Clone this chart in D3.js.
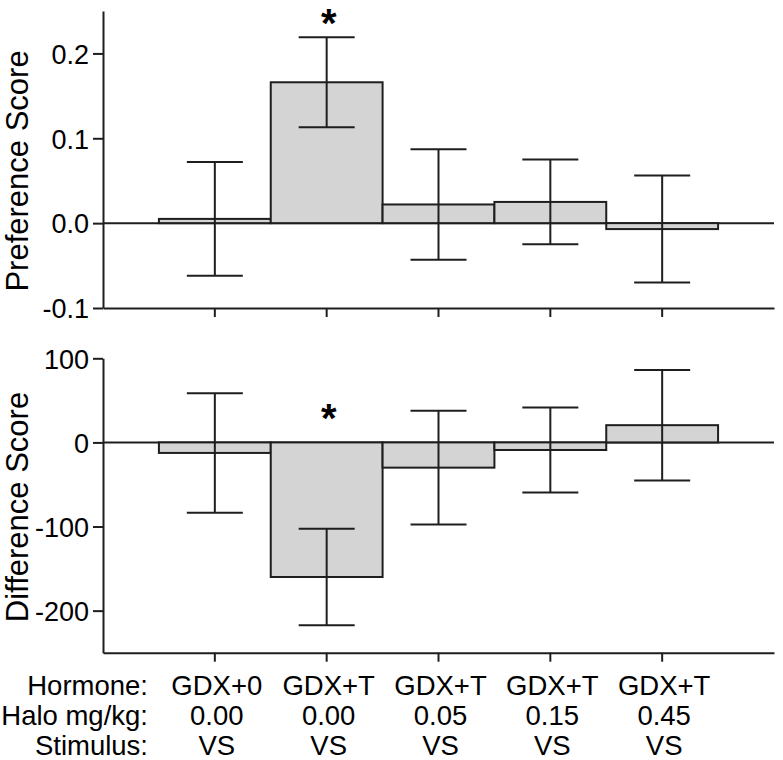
<!DOCTYPE html>
<html>
<head>
<meta charset="utf-8">
<script src="https://cdn.jsdelivr.net/npm/d3@7"></script>
<style>
  html, body { margin: 0; padding: 0; background: #fff; }
  svg { display: block; font-family: "Liberation Sans", Arial, Helvetica, sans-serif; }
</style>
</head>
<body>
<svg id="chart" width="783" height="760"></svg>
<script>
// ---- Data ----
const hormone = ["GDX+0", "GDX+T", "GDX+T", "GDX+T", "GDX+T"];
const halo = ["0.00", "0.00", "0.05", "0.15", "0.45"];
const stimulus = ["VS", "VS", "VS", "VS", "VS"];
const rowLabels = ["Hormone:", "Halo mg/kg:", "Stimulus:"];

const prefMean = [0.005, 0.166, 0.022, 0.025, -0.007];
const prefErr  = [0.067, 0.053, 0.065, 0.050, 0.063];
const diffMean = [-12.5, -160, -30, -9, 20.5];
const diffErr  = [71, 57.5, 67.5, 50.5, 65.7];

const prefTicks = [-0.1, 0.0, 0.1, 0.2];
const diffTicks = [-200, -100, 0, 100];

const prefSig = [{ i: 1, y: 0.249 }];
const diffSig = [{ i: 1, y: 42 }];

// ---- Layout ----
const svg = d3.select("#chart");
const ink = "#1e1e1e";
const idx = hormone.map((d, i) => i);

const x = d3.scaleBand().domain(idx).range([103, 774]).paddingInner(0).paddingOuter(0.5);

const hy = f => v => f(v).replace("\u2212", "-");

const panels = [
  { title: "Preference Score", mean: prefMean, err: prefErr, ticks: prefTicks, fmt: hy(d3.format(".1f")),
    domain: [-0.1, 0.25], range: [308, 11], sig: prefSig, titleY: 171, xLabels: false },
  { title: "Difference Score", mean: diffMean, err: diffErr, ticks: diffTicks, fmt: hy(d3.format("d")),
    domain: [-250, 100], range: [652.7, 358.3], sig: diffSig, titleY: 507, xLabels: true }
];

panels.forEach(p => {
  const y = d3.scaleLinear().domain(p.domain).range(p.range);
  const g = svg.append("g");

  // zero line
  g.append("line")
    .attr("x1", x.range()[0]).attr("x2", x.range()[1])
    .attr("y1", y(0)).attr("y2", y(0))
    .attr("stroke", ink).attr("stroke-width", 2);

  // bars
  g.selectAll("rect.bar").data(idx).join("rect")
    .attr("class", "bar")
    .attr("x", i => x(i))
    .attr("width", x.bandwidth())
    .attr("y", i => y(Math.max(0, p.mean[i])))
    .attr("height", i => Math.abs(y(p.mean[i]) - y(0)))
    .attr("fill", "#d4d4d4")
    .attr("stroke", ink).attr("stroke-width", 2);

  // error bars
  const capW = 28;
  const eb = g.selectAll("g.eb").data(idx).join("g").attr("class", "eb");
  eb.append("line")
    .attr("x1", i => x(i) + x.bandwidth() / 2).attr("x2", i => x(i) + x.bandwidth() / 2)
    .attr("y1", i => y(p.mean[i] + p.err[i])).attr("y2", i => y(p.mean[i] - p.err[i]))
    .attr("stroke", ink).attr("stroke-width", 2);
  [1, -1].forEach(s => {
    eb.append("line")
      .attr("x1", i => x(i) + x.bandwidth() / 2 - capW).attr("x2", i => x(i) + x.bandwidth() / 2 + capW)
      .attr("y1", i => y(p.mean[i] + s * p.err[i])).attr("y2", i => y(p.mean[i] + s * p.err[i]))
      .attr("stroke", ink).attr("stroke-width", 2);
  });

  // y axis
  const ya = g.append("g").attr("transform", `translate(${x.range()[0]},0)`)
    .call(d3.axisLeft(y).tickValues(p.ticks).tickFormat(p.fmt).tickSize(10).tickSizeOuter(0).tickPadding(4));
  ya.select(".domain").attr("stroke", ink).attr("stroke-width", 2);
  ya.selectAll(".tick line").attr("stroke", ink).attr("stroke-width", 2);
  ya.selectAll(".tick text").attr("font-size", 27).attr("fill", "#000")
    .attr("font-family", "'Liberation Sans', Arial, sans-serif").attr("dy", "0.36em");

  // x axis
  const xa = g.append("g").attr("transform", `translate(0,${p.range[0]})`)
    .call(d3.axisBottom(x).tickFormat("").tickSize(9).tickSizeOuter(0));
  xa.select(".domain").attr("stroke", ink).attr("stroke-width", 2);
  xa.selectAll(".tick line").attr("stroke", ink).attr("stroke-width", 2);

  // y title
  g.append("text")
    .attr("transform", `translate(28,${p.titleY}) rotate(-90)`)
    .attr("text-anchor", "middle")
    .attr("font-size", 31)
    .attr("fill", "#000")
    .text(p.title);

  // significance
  g.selectAll("text.sig").data(p.sig).join("text")
    .attr("class", "sig")
    .attr("x", d => x(d.i) + x.bandwidth() / 2 + 2)
    .attr("y", d => y(d.y))
    .attr("dy", "0.62em")
    .attr("text-anchor", "middle")
    .attr("font-size", 40).attr("font-weight", "bold")
    .attr("fill", "#000")
    .text("*");

  if (p.xLabels) {
    const rows = [hormone, halo, stimulus];
    const base = [695, 725, 755];
    rows.forEach((r, k) => {
      g.append("text")
        .attr("x", 148).attr("y", base[k])
        .attr("text-anchor", "end").attr("font-size", 27.5).attr("fill", "#000")
        .text(rowLabels[k]);
      g.selectAll(`text.row${k}`).data(idx).join("text")
        .attr("class", `row${k}`)
        .attr("x", i => x(i) + x.bandwidth() / 2 + 2)
        .attr("y", base[k])
        .attr("text-anchor", "middle").attr("font-size", 27.5).attr("fill", "#000")
        .text(i => r[i]);
    });
  }
});
</script>
</body>
</html>
